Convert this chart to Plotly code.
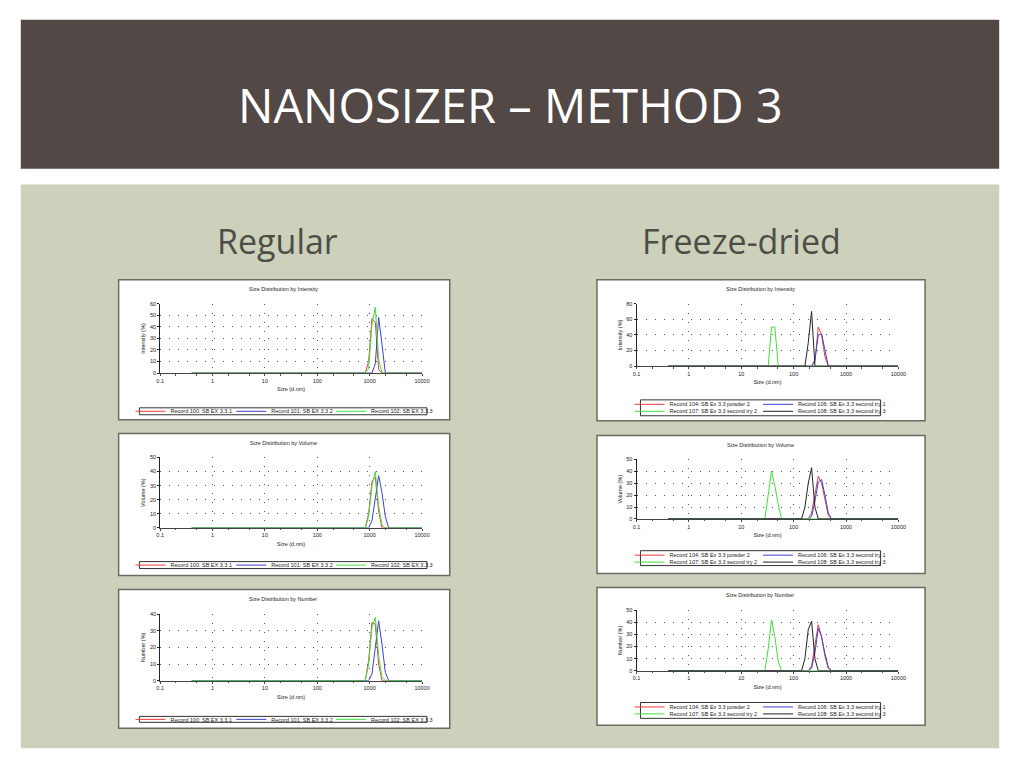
import plotly.graph_objects as go

W, H = 1024, 768

# ---- data (size in d.nm, values in %) ----
reg_sizes = [0.4, 825.0, 955.4, 1106, 1281, 1484, 1718, 1990, 2305, 10000]

reg_int_100 = [0, 0, 10, 47, 44, 3, 0, 0, 0, 0]
reg_int_101 = [0, 0, 0, 0, 8, 48, 25, 0, 0, 0]
reg_int_102 = [0, 0, 4, 42, 57, 12, 0, 0, 0, 0]

reg_vol_100 = [0, 0, 10, 33, 36, 12, 0, 0, 0, 0]
reg_vol_101 = [0, 0, 0, 5, 22, 37, 25, 8, 0, 0]
reg_vol_102 = [0, 0, 8, 30, 40, 15, 2, 0, 0, 0]

reg_num_100 = [0, 0, 12, 35, 34, 10, 0, 0, 0, 0]
reg_num_101 = [0, 0, 0, 4, 20, 36, 22, 5, 0, 0]
reg_num_102 = [0, 0, 10, 32, 38, 15, 2, 0, 0, 0]

fd_sizes = [0.4, 28.21, 32.67, 37.84, 43.82, 50.75, 58.77, 141.8, 164.2,
            190.1, 220.2, 255.0, 295.3, 342.0, 396.1, 458.7, 531.2, 10000]

fd_int_104 = [0, 0, 0, 0, 0, 0, 0, 0, 0, 0, 0, 5, 50, 40, 12, 0, 0, 0]
fd_int_106 = [0, 0, 0, 0, 0, 0, 0, 0, 0, 0, 0, 8, 40, 41, 18, 0, 0, 0]
fd_int_107 = [0, 0, 0, 50, 50, 0, 0, 0, 0, 0, 0, 0, 0, 0, 0, 0, 0, 0]
fd_int_108 = [0, 0, 0, 0, 0, 0, 0, 0, 0, 30, 70, 0, 0, 0, 0, 0, 0, 0]

fd_vol_104 = [0, 0, 0, 0, 0, 0, 0, 0, 0, 0, 5, 22, 36, 30, 15, 3, 0, 0]
fd_vol_106 = [0, 0, 0, 0, 0, 0, 0, 0, 0, 0, 2, 15, 31, 33, 20, 5, 0, 0]
fd_vol_107 = [0, 0, 20, 40, 28, 12, 0, 0, 0, 0, 0, 0, 0, 0, 0, 0, 0, 0]
fd_vol_108 = [0, 0, 0, 0, 0, 0, 0, 0, 10, 30, 43, 10, 0, 0, 0, 0, 0, 0]

fd_num_104 = [0, 0, 0, 0, 0, 0, 0, 0, 0, 0, 4, 20, 38, 28, 12, 2, 0, 0]
fd_num_106 = [0, 0, 0, 0, 0, 0, 0, 0, 0, 0, 2, 15, 35, 28, 14, 3, 0, 0]
fd_num_107 = [0, 0, 18, 42, 28, 8, 0, 0, 0, 0, 0, 0, 0, 0, 0, 0, 0, 0]
fd_num_108 = [0, 0, 0, 0, 0, 0, 0, 0, 10, 34, 41, 10, 0, 0, 0, 0, 0, 0]

reg_names = ['Record 100: SB EX 3.3.1', 'Record 101: SB EX 3.3.2', 'Record 102: SB EX 3.3.3']
fd_names = ['Record 104: SB Ex 3.3 powder 2', 'Record 106: SB Ex 3.3 second try 1',
            'Record 107: SB Ex 3.3 second try 2', 'Record 108: SB Ex 3.3 second try 3']

x_ticks = [0.1, 1, 10, 100, 1000, 10000]
x_ticktext = ['0.1', '1', '10', '100', '1000', '10000']

RED, BLUE, GREEN, BLACK = '#ee3b3b', '#3f3fcf', '#3ee03e', '#222222'
FONT = 'Liberation Sans'
SMALL = 5.5


def fx(px):
    return px / W


def fy(py):
    return 1 - py / H


def label(text, x, y, size, color, family=FONT):
    return dict(text=text, x=fx(x), y=fy(y), xref='paper', yref='paper', showarrow=False,
                xanchor='center', yanchor='middle', font=dict(family=family, size=size, color=color))


# legend entry text positions (x of text start) in pixels
reg_leg_x = [168, 270, 371]
fd_leg_x = [673, 803, 673, 803]

# chart boxes: frame, plot area, titles, legend box (all in pixels)
charts = [
    dict(frame=(116, 279, 451, 420), plot=(158, 303, 423, 373), ymax=60, dtick=10,
         title='Size Distribution by Intensity', ytitle='Intensity (%)', title_y=288,
         sizes=reg_sizes, series=[reg_int_100, reg_int_101, reg_int_102],
         names=reg_names, colors=[RED, BLUE, GREEN], leg_box=(137, 408, 428, 415)),
    dict(frame=(600, 279, 932, 421), plot=(640, 303, 905, 366), ymax=80, dtick=20,
         title='Size Distribution by Intensity', ytitle='Intensity (%)', title_y=288,
         sizes=fd_sizes, series=[fd_int_104, fd_int_106, fd_int_107, fd_int_108],
         names=fd_names, colors=[RED, BLUE, GREEN, BLACK], leg_box=(644, 400, 887, 416)),
    dict(frame=(116, 434, 451, 577), plot=(158, 458, 423, 529), ymax=50, dtick=10,
         title='Size Distribution by Volume', ytitle='Volume (%)', title_y=443,
         sizes=reg_sizes, series=[reg_vol_100, reg_vol_101, reg_vol_102],
         names=reg_names, colors=[RED, BLUE, GREEN], leg_box=(137, 563, 428, 570)),
    dict(frame=(600, 436, 932, 575), plot=(640, 460, 905, 520), ymax=50, dtick=10,
         title='Size Distribution by Volume', ytitle='Volume (%)', title_y=445,
         sizes=fd_sizes, series=[fd_vol_104, fd_vol_106, fd_vol_107, fd_vol_108],
         names=fd_names, colors=[RED, BLUE, GREEN, BLACK], leg_box=(644, 552, 887, 567)),
    dict(frame=(116, 591, 451, 731), plot=(158, 616, 423, 683), ymax=40, dtick=10,
         title='Size Distribution by Number', ytitle='Number (%)', title_y=601,
         sizes=reg_sizes, series=[reg_num_100, reg_num_101, reg_num_102],
         names=reg_names, colors=[RED, BLUE, GREEN], leg_box=(137, 719, 428, 725)),
    dict(frame=(600, 589, 932, 728), plot=(640, 612, 905, 673), ymax=50, dtick=10,
         title='Size Distribution by Number', ytitle='Number (%)', title_y=597,
         sizes=fd_sizes, series=[fd_num_104, fd_num_106, fd_num_107, fd_num_108],
         names=fd_names, colors=[RED, BLUE, GREEN, BLACK], leg_box=(644, 705, 887, 721)),
]

fig = go.Figure()
shapes = [
    dict(type='rect', xref='paper', yref='paper', x0=fx(17), x1=fx(1007), y0=fy(167), y1=fy(17),
         fillcolor='#524846', line=dict(width=0), layer='below'),
    dict(type='rect', xref='paper', yref='paper', x0=fx(17), x1=fx(1007), y0=fy(751), y1=fy(183),
         fillcolor='#cdd0ba', line=dict(width=0), layer='below'),
]
annotations = [
    label('NANOSIZER – METHOD 3', 512, 103, 47, 'white', 'Open Sans'),
    label('Regular', 277, 240, 34, '#4d4d48', 'Open Sans'),
    label('Freeze-dried', 746, 240, 34, '#4d4d48', 'Open Sans'),
]
layout_extra = {}
legend_n = 0

for i, c in enumerate(charts, start=1):
    suffix = '' if i == 1 else str(i)
    fl, ft, fr, fb = c['frame']
    pl, pt, pr, pb = c['plot']
    shapes.append(dict(type='rect', xref='paper', yref='paper', x0=fx(fl), x1=fx(fr),
                       y0=fy(fb), y1=fy(ft), fillcolor='white',
                       line=dict(color='#6b6b62', width=1.5), layer='below'))
    lb = c['leg_box']
    shapes.append(dict(type='rect', xref='paper', yref='paper', x0=fx(lb[0]), x1=fx(lb[2]),
                       y0=fy(lb[3]), y1=fy(lb[1]), fillcolor='rgba(0,0,0,0)',
                       line=dict(color='#333', width=1)))
    annotations.append(label(c['title'], (fl + fr) / 2 - 1, c['title_y'], SMALL, '#222'))

    layout_extra['xaxis' + suffix] = dict(
        domain=[fx(pl), fx(pr)], anchor='y' + suffix, type='log', range=[-1, 4],
        tickvals=x_ticks, ticktext=x_ticktext, ticks='outside', ticklen=2,
        tickfont=dict(family=FONT, size=SMALL, color='#222'),
        showline=True, linecolor='#444', linewidth=1,
        showgrid=True, gridcolor='#555', gridwidth=1, griddash='1px,8px',
        minor=dict(ticks='outside', ticklen=1.5, tickcolor='#555', showgrid=False),
        title=dict(text='Size (d.nm)', standoff=4, font=dict(family=FONT, size=SMALL, color='#222')),
        zeroline=False, fixedrange=True)
    layout_extra['yaxis' + suffix] = dict(
        domain=[fy(pb), fy(pt)], anchor='x' + suffix, range=[0, c['ymax']], dtick=c['dtick'],
        ticks='outside', ticklen=2, tickcolor='#222',
        tickfont=dict(family=FONT, size=SMALL, color='#222'),
        showline=True, linecolor='#222', linewidth=1,
        showgrid=True, gridcolor='#555', gridwidth=1, griddash='1px,8px',
        title=dict(text=c['ytitle'], standoff=3, font=dict(family=FONT, size=SMALL, color='#222')),
        zeroline=False, fixedrange=True)

    two_rows = len(c['series']) == 4
    text_x = fd_leg_x if two_rows else reg_leg_x
    rows = [lb[1] + 4.5, lb[1] + 4.5, lb[1] + 11.5, lb[1] + 11.5] if two_rows \
        else [(lb[1] + lb[3]) / 2] * 3

    for k, (vals, name, col) in enumerate(zip(c['series'], c['names'], c['colors'])):
        legend_n += 1
        lid = 'legend' if legend_n == 1 else 'legend' + str(legend_n)
        layout_extra[lid] = dict(
            x=fx(text_x[k] - 40), y=fy(rows[k]), xanchor='left', yanchor='middle',
            orientation='h', bgcolor='rgba(0,0,0,0)', borderwidth=0, itemwidth=30,
            font=dict(family=FONT, size=SMALL, color='#222'))
        fig.add_trace(go.Scatter(
            x=c['sizes'], y=vals, mode='lines', name=name,
            line=dict(color=col, width=1),
            xaxis='x' + suffix, yaxis='y' + suffix, legend=lid))

fig.update_layout(
    width=W, height=H, margin=dict(l=0, r=0, t=0, b=0),
    paper_bgcolor='white', plot_bgcolor='rgba(0,0,0,0)',
    showlegend=True, shapes=shapes, annotations=annotations,
    **layout_extra)

fig.write_html('out.html', config={'displayModeBar': False},
               post_script="document.body.style.margin='0';document.body.style.overflow='hidden';")
